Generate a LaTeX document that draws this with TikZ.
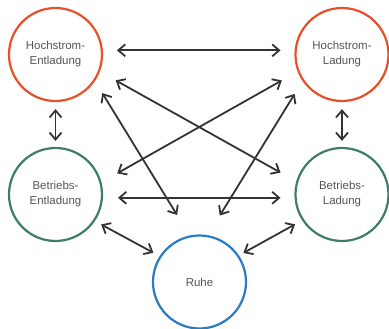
\documentclass[tikz,border=0pt]{standalone}
\usepackage{fontspec}
\setmainfont{Liberation Sans}
\usetikzlibrary{arrows.meta}
\definecolor{hred}{HTML}{E8502A}
\definecolor{bgreen}{HTML}{3E7D6C}
\definecolor{rblue}{HTML}{2B7BC1}
\definecolor{txt}{HTML}{555555}
\definecolor{arr}{HTML}{333333}
\begin{document}
\begin{tikzpicture}[x=1bp,y=1bp,
  state/.style={circle,draw,line width=2.2bp,minimum size=93bp,inner sep=0pt,align=center,text=txt,font=\fontsize{11.5}{15}\selectfont},
  tip/.style={Straight Barb[length=7bp,width=12bp,line width=1.8bp]},
  link/.style={draw=arr,line width=1.8bp,{Straight Barb[length=7bp,width=12bp,line width=1.8bp]}-{Straight Barb[length=7bp,width=12bp,line width=1.8bp]}}]
\useasboundingbox (0,0) rectangle (389,329);
\node[state,draw=hred] (he) at (55.5,274.5) {Hochstrom-\\Entladung};
\node[state,draw=hred] (hl) at (342,274.5) {Hochstrom-\\Ladung};
\node[state,draw=bgreen] (be) at (55.5,134.5) {Betriebs-\\Entladung};
\node[state,draw=bgreen] (bl) at (342,134.5) {Betriebs-\\Ladung};
\node[state,draw=rblue] (ru) at (199.5,47) {Ruhe};
\draw[link,shorten <=14bp,shorten >=14bp] (he.5) -- (hl.175);
\draw[link,shorten <=7bp,shorten >=6bp] (he.south) -- (be.north);
\draw[link,shorten <=7bp,shorten >=6bp] (hl.south) -- (bl.north);
\draw[link,shorten <=15bp,shorten >=14bp] (be.-4) -- (bl.184);
\draw[link,shorten <=7bp,shorten >=7bp] (be.-34) -- (ru.147);
\draw[link,shorten <=8bp,shorten >=5bp] (bl.213) -- (ru.34);
\draw[link,shorten <=18bp,shorten >=18bp] (he.-21) -- (bl.164.5);
\draw[link,shorten <=18bp,shorten >=18bp] (hl.201) -- (be.15.5);
\draw[link,shorten <=14bp,shorten >=24bp] (he.-34) -- (ru.102);
\draw[link,shorten <=15bp,shorten >=23bp] (hl.214.8) -- (ru.80.5);
\end{tikzpicture}
\end{document}
